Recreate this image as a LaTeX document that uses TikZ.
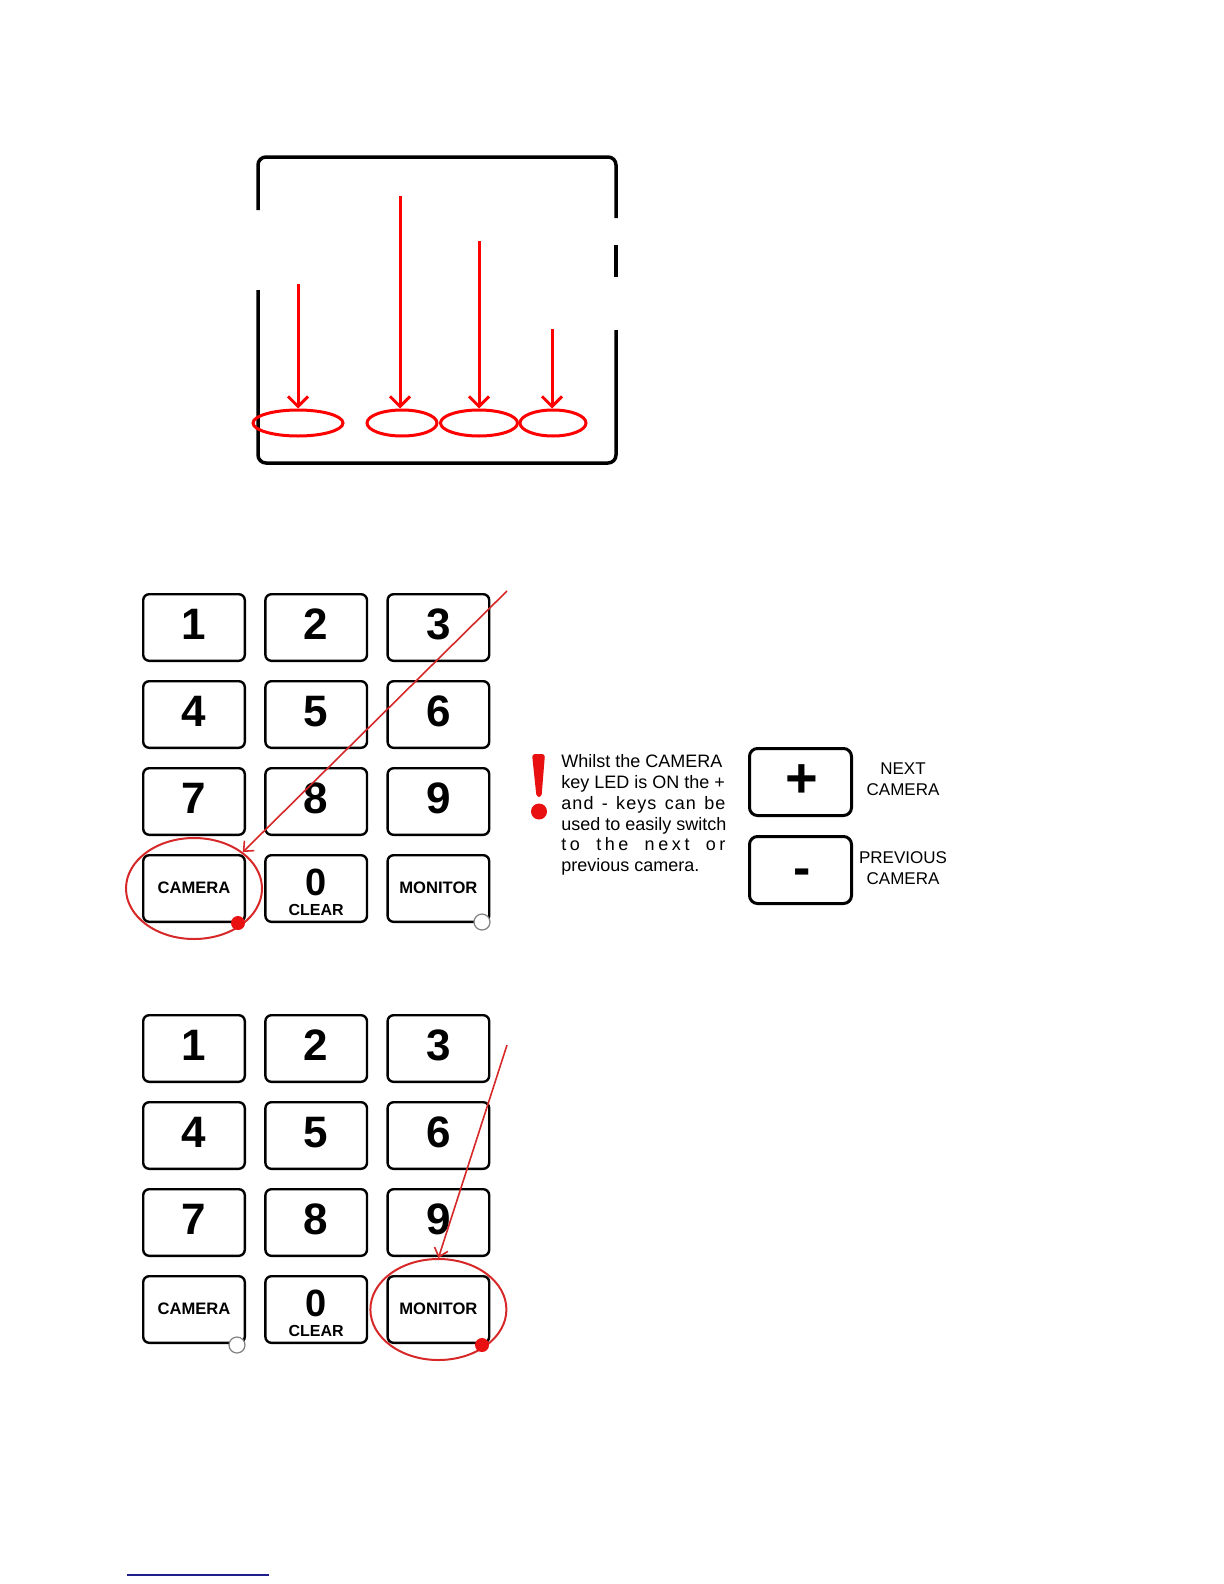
\documentclass[tikz,border=0pt]{standalone}
\usepackage{fontspec}
\setmainfont{Liberation Sans}
\usetikzlibrary{arrows.meta,shapes.geometric}
\definecolor{redA}{HTML}{FF0000}
\definecolor{redB}{HTML}{D62828}
\definecolor{redD}{HTML}{E81010}
\definecolor{navyline}{HTML}{1E1E8C}
\begin{document}
\begin{tikzpicture}[x=0.5pt,y=-0.5pt,
  frame/.style={line width=1.75pt,rounded corners=4pt},
  oval/.style={ellipse,draw=redA,line width=1.5pt,inner sep=0,minimum height=13pt},
  redarrow/.style={draw=redA,line width=1.5pt,-{Straight Barb[length=5pt,width=10pt]}},
  key/.style={draw,line width=1.2pt,rounded corners=3pt,minimum width=50.8pt,minimum height=33.3pt,inner sep=0,fill=white},
  bigkey/.style={draw,line width=1.5pt,rounded corners=4pt,minimum width=51pt,minimum height=33.5pt,inner sep=0,fill=white},
  digit/.style={font=\fontsize{22}{22}\bfseries\selectfont,inner sep=0},
  keytxt/.style={font=\fontsize{8.3}{9}\bfseries\selectfont,inner sep=0},
  ring/.style={ellipse,draw=redB,line width=1pt,inner sep=0,minimum width=68pt,minimum height=50.5pt},
  thinarrow/.style={draw=redB,line width=0.8pt,-{Straight Barb[length=4pt,width=7pt]}},
  ledon/.style={circle,fill=redD,inner sep=0,minimum size=7pt},
  ledoff/.style={circle,draw=gray,fill=white,line width=0.6pt,inner sep=0,minimum size=8pt},
  para/.style={anchor=base west,inner sep=0,font=\fontsize{9}{11}\selectfont},
  side/.style={align=center,inner sep=0,font=\fontsize{8.5}{10.5}\selectfont}]
\useasboundingbox (0,0) rectangle (1224,1584);

% top frame with gaps
\draw[frame] (258,210) -- (258,157) -- (616,157) -- (616,218);
\draw[line width=1.75pt] (616,245) -- (616,277);
\draw[frame] (616,330) -- (616,463) -- (258,463) -- (258,290);

% ovals and arrows
\node[oval,minimum width=45pt] (e1) at (298,423) {};
\node[oval,minimum width=35pt] (e2) at (402,423) {};
\node[oval,minimum width=38.5pt] (e3) at (479,423) {};
\node[oval,minimum width=33pt] (e4) at (553,423) {};
\coordinate (a1) at (298,284);
\coordinate (a2) at (400,196);
\coordinate (a3) at (479,241);
\coordinate (a4) at (552,329);
\draw[redarrow] (a1) -- (a1 |- e1.north);
\draw[redarrow] (a2) -- (a2 |- e2.north);
\draw[redarrow] (a3) -- (a3 |- e3.north);
\draw[redarrow] (a4) -- (a4 |- e4.north);

% keypads
\foreach \p/\oy in {p/0,q/421}{
  \foreach \d/\c/\r in {1/0/0,2/1/0,3/2/0,4/0/1,5/1/1,6/2/1,7/0/2,8/1/2,9/2/2}{
    \node[key] (\p\d) at ({194+122.2*\c},{627.5+87*\r+\oy}) {};
    \node[digit] at ([yshift=1.5pt]\p\d.center) {\d};
  }
  \node[key] (\p cam) at (194,{888.5+\oy}) {};
  \node[keytxt] at ([yshift=0.5pt]\p cam.center) {CAMERA};
  \node[key] (\p0) at (316.2,{888.5+\oy}) {};
  \node[font=\fontsize{19}{19}\bfseries\selectfont,inner sep=0] at ([yshift=2.8pt]\p0.center) {0};
  \node[keytxt,font=\fontsize{8}{9}\bfseries\selectfont] at ([yshift=-10.8pt]\p0.center) {CLEAR};
  \node[key] (\p mon) at (438.4,{888.5+\oy}) {};
  \node[keytxt] at ([yshift=0.5pt]\p mon.center) {MONITOR};
}

% keypad 1 highlight
\node[ring] (c1) at (pcam.center) {};
\coordinate (t1) at (507,591);
\draw[thinarrow] (t1) -- (c1.north east);
\node[ledon] (l1) at (238,923) {};
\node[ledoff] (l2) at (482,922) {};

% keypad 2 highlight
\node[ring] (c2) at (qmon.center) {};
\coordinate (t2) at (507,1045);
\draw[thinarrow] (t2) -- (c2.north);
\node[ledon] (l3) at (482,1345) {};
\node[ledoff] (l4) at (237,1345) {};

% exclamation mark
\fill[redD,rounded corners=1.5pt] (532,754) -- (545,754) -- (541.5,797) -- (536.5,797) -- cycle;
\fill[redD] (539,811.5) circle[radius=4pt];

% note text
\node[para] (n1) at (561,767) {Whilst the CAMERA};
\node[para] (n2) at (561,788) {key LED is ON the +};
\node[para] (n3) at (561,809) {\makebox[82pt][s]{\addfontfeature{LetterSpace=6}and - keys can be}};
\node[para] (n4) at (561,830) {used to easily switch};
\node[para] (n5) at (561,850) {\makebox[82pt][s]{\addfontfeature{LetterSpace=20}to the next or}};
\node[para] (n6) at (561,871) {previous camera.};

% plus / minus keys
\node[bigkey] (plus) at (800.5,782) {};
\node[font=\fontsize{28}{28}\bfseries\selectfont,inner sep=0] at ([xshift=0.8pt,yshift=0.5pt]plus.center) {+};
\node[bigkey] (minus) at (800.5,870) {};
\node[font=\fontsize{26}{26}\bfseries\selectfont,inner sep=0] at ([xshift=0.8pt,yshift=-3.5pt]minus.center) {-};
\node[side] (nx) at (903,779) {NEXT\\CAMERA};
\node[side] (pv) at (903,868) {PREVIOUS\\CAMERA};

% bottom rule
\draw[navyline,line width=1pt] (127,1575) -- (269,1575);
\end{tikzpicture}
\end{document}
